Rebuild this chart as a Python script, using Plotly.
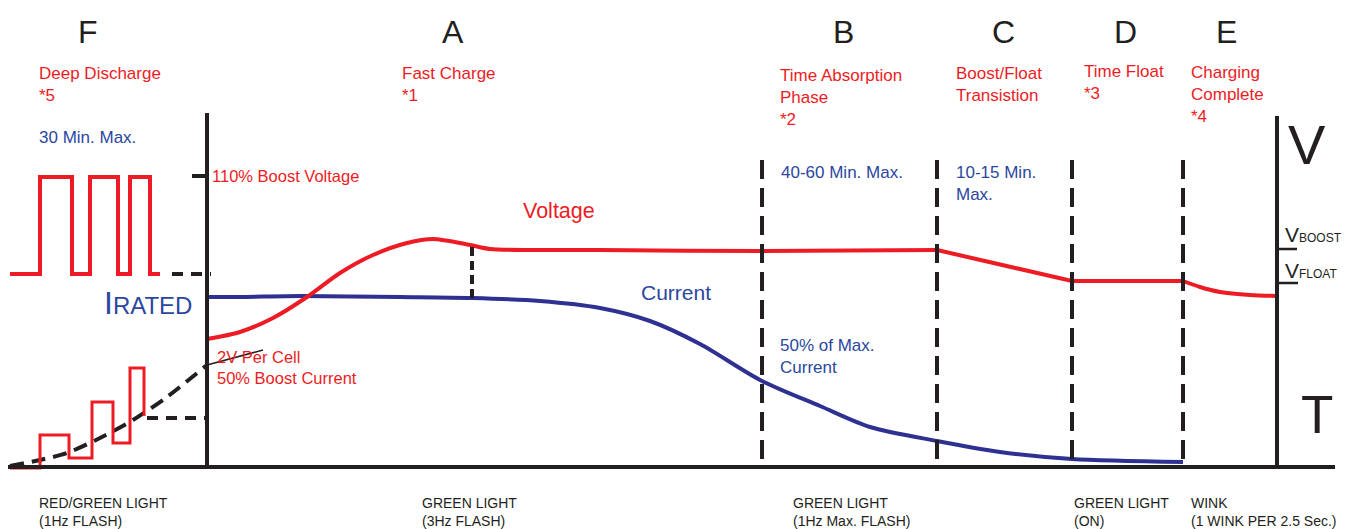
import plotly.graph_objects as go

# ---------------- data (x = time position, y = level above T axis) ----------------
BASE = 469
volt_rise_x = [207, 240, 273, 307, 340, 373, 407, 433, 470, 490, 600, 760, 937]
volt_rise_y = [BASE - v for v in [339, 332, 318, 297, 273, 255, 243, 239, 245, 249, 250, 251, 250]]
volt_trans_x = [937, 1072, 1183]
volt_trans_y = [BASE - v for v in [250, 281, 281]]
volt_end_x = [1183, 1200, 1220, 1250, 1277]
volt_end_y = [BASE - v for v in [281, 287, 292, 295, 296]]

curr_x = [207, 240, 300, 400, 472, 540, 600, 650, 700, 762, 820, 870, 937, 1000, 1072, 1183]
curr_y = [BASE - v for v in [297, 297, 296, 297, 298, 301, 308, 321, 344, 381, 406, 427, 441, 452, 459, 462]]

pulse_hi_x = [10, 40, 40, 72, 72, 90, 90, 118, 118, 130, 130, 150, 150, 160]
pulse_hi_y = [BASE - v for v in [274, 274, 177, 177, 274, 274, 177, 177, 274, 274, 177, 177, 274, 274]]

pulse_lo_x = [10, 40, 40, 69, 69, 92, 92, 113, 113, 130, 130, 144, 144]
pulse_lo_y = [BASE - v for v in [468, 468, 435, 435, 458, 458, 402, 402, 443, 443, 368, 368, 416]]

disch_x = [10, 40, 67, 100, 133, 167, 207]
disch_y = [BASE - v for v in [466, 460, 453, 438, 420, 397, 365]]
cell_x = [207, 263]
cell_y = [BASE - v for v in [365, 350]]

phase_x = [762, 937, 1072, 1183]
phase_letters = ["F", "A", "B", "C", "D", "E"]
phase_letter_x = [88, 453, 843, 1003, 1125, 1226]

RED = "#ED1C24"
BLUE = "#2E3192"
TBLUE = "#2B47A0"
BLACK = "#231F20"
FONT = "Liberation Sans, Arial, sans-serif"

# page body has an 8px margin; map data coordinates onto window pixels
OFF = 8
W, H = 1350, 529

fig = go.Figure()

def line(x, y, color, width=4, dash="solid", shape="linear"):
    fig.add_trace(go.Scatter(x=x, y=y, mode="lines", hoverinfo="skip",
                             line=dict(color=color, width=width, dash=dash, shape=shape,
                                       smoothing=0.8)))

# black dashed discharge curve
line(disch_x, disch_y, BLACK, 4, "14px,8px", "spline")
line(cell_x, cell_y, BLACK, 1.5)
# pulses
line(pulse_hi_x, pulse_hi_y, RED, 4)
line(pulse_lo_x, pulse_lo_y, RED, 3)
# main curves
line(curr_x, curr_y, BLUE, 4, shape="spline")
line(volt_rise_x, volt_rise_y, RED, 4, shape="spline")
line(volt_trans_x, volt_trans_y, RED, 4)
line(volt_end_x, volt_end_y, RED, 4, shape="spline")

shapes = []
def seg(x0, y0, x1, y1, width=4, dash="solid", color=BLACK):
    shapes.append(dict(type="line", xref="x", yref="y", x0=x0, x1=x1,
                       y0=BASE - y0, y1=BASE - y1,
                       line=dict(color=color, width=width, dash=dash)))

# axes
seg(8, 467, 1335, 467, 4)
seg(207, 113, 207, 469, 4)
seg(1277, 116, 1277, 469, 4)
seg(192, 176, 207, 176, 4)
seg(1277, 249, 1297, 249, 2.5)
seg(1277, 283, 1298, 283, 2.5)
# dashed helpers
seg(172, 274, 211, 274, 4, "11px,8px")
seg(147, 418, 207, 418, 4, "11px,8px")
seg(472, 247, 472, 298, 4, "9px,5px")
for px in phase_x:
    seg(px, 160, px, 469, 4, "19px,9px")

fig.update_layout(shapes=shapes)

ann = []
def text(x, py, s, color, size, xanchor="left", yanchor="middle", pad=1):
    ann.append(dict(x=x, y=BASE - py, xref="x", yref="y", text=s, showarrow=False,
                    xanchor=xanchor, yanchor=yanchor, align="left", borderpad=pad,
                    font=dict(color=color, size=size, family=FONT)))

for lx, lt in zip(phase_letter_x, phase_letters):
    text(lx, 32, lt, BLACK, 32, xanchor="center")

text(37, 62, "Deep Discharge<br>*5", RED, 17, yanchor="top")
text(400, 62, "Fast Charge<br>*1", RED, 17, yanchor="top")
text(778, 64, "Time Absorption<br>Phase<br>*2", RED, 17, yanchor="top")
text(954, 62, "Boost/Float<br>Transistion", RED, 17, yanchor="top")
text(1082, 60, "Time Float<br>*3", RED, 17, yanchor="top")
text(1189, 61, "Charging<br>Complete<br>*4", RED, 17, yanchor="top")

text(37, 137, "30 Min. Max.", TBLUE, 17)
text(210, 176, "110% Boost Voltage", RED, 16.5)
text(521, 211, "Voltage", RED, 21.5)
text(639, 292, "Current", TBLUE, 21)
text(102, 303, "<span style='font-size:32px'>I</span>RATED", TBLUE, 24)
text(215, 346, "2V Per Cell<br>50% Boost Current", RED, 16.5, yanchor="top")
text(779, 172, "40-60 Min. Max.", TBLUE, 17)
text(954, 161, "10-15 Min.<br>Max.", TBLUE, 17, yanchor="top")
text(778, 334, "50% of Max.<br>Current", TBLUE, 17, yanchor="top")

text(1287, 144, "V", BLACK, 56, pad=0)
text(1300, 414, "T", BLACK, 53, pad=0)
text(1284, 234, "V<span style='font-size:12px'>BOOST</span>", BLACK, 21, pad=0)
text(1284, 270, "V<span style='font-size:12px'>FLOAT</span>", BLACK, 21, pad=0)

for bx, bt in [(37, "RED/GREEN LIGHT<br>(1Hz FLASH)"),
               (420, "GREEN LIGHT<br>(3Hz FLASH)"),
               (791, "GREEN LIGHT<br>(1Hz Max. FLASH)"),
               (1072, "GREEN LIGHT<br>(ON)"),
               (1189, "WINK<br>(1 WINK PER 2.5 Sec.)")]:
    text(bx, 493, bt, BLACK, 14, yanchor="top")

fig.update_layout(annotations=ann)

fig.update_layout(
    width=W - OFF, height=H - OFF,
    margin=dict(l=0, r=0, t=0, b=0),
    paper_bgcolor="white", plot_bgcolor="white",
    showlegend=False,
    xaxis=dict(range=[OFF, W], visible=False, fixedrange=True),
    yaxis=dict(range=[BASE - H, BASE - OFF], visible=False, fixedrange=True),
)

fig.write_html("out.html")
